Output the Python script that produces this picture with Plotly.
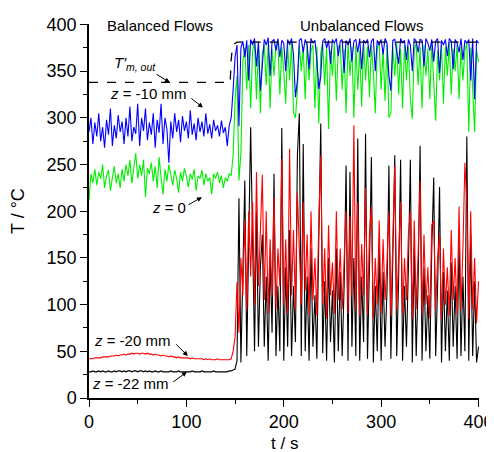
import plotly.graph_objects as go

# ---------------------------------------------------------------- DATA ---- #
# sample times (s), every 2 s from 0 to 400
time_s = list(range(0, 401, 2))

# z = -10 mm (blue)
temp_z_m10 = [
    285, 300, 272, 295, 280, 305, 275, 290, 268, 298,
    282, 310, 270, 292, 278, 303, 285, 296, 272, 300,
    280, 312, 275, 290, 283, 315, 270, 300, 286, 310,
    276, 295, 282, 305, 268, 298, 284, 315, 272, 300,
    288, 252, 296, 278, 305, 285, 298, 274, 302, 286,
    296, 278, 308, 282, 294, 276, 300, 285, 296, 280,
    305, 283, 293, 278, 298, 286, 292, 280, 297, 284,
    290, 270, 292, 300, 330, 365, 378, 291, 375, 382,
    365, 383, 340, 384, 378, 385, 355, 382, 329, 360,
    384, 378, 386, 345, 382, 384, 372, 385, 365, 383,
    380, 350, 384, 378, 385, 368, 322, 340, 383, 385,
    370, 384, 378, 352, 385, 380, 383, 362, 331, 345,
    382, 385, 375, 383, 358, 384, 380, 385, 366, 382,
    384, 348, 383, 378, 385, 360, 382, 384, 370, 385,
    352, 383, 380, 384, 365, 382, 385, 350, 383, 378,
    384, 368, 385, 380, 345, 329, 383, 384, 372, 358,
    385, 380, 383, 362, 384, 378, 350, 385, 382, 370,
    384, 383, 355, 385, 380, 372, 384, 360, 382, 385,
    348, 383, 378, 384, 366, 385, 382, 352, 384, 380,
    370, 385, 362, 383, 380, 384, 340, 385, 320, 383,
    380,
]

# z = 0 (green)
temp_z_0 = [
    212, 240, 230, 245, 228, 242, 235, 250, 225, 238,
    244, 222, 236, 248, 230, 240, 225, 245, 232, 250,
    238, 255, 230, 245, 262, 235, 250, 238, 255, 215,
    246, 240, 252, 232, 248, 225, 258, 236, 218, 245,
    232, 250, 238, 228, 244, 235, 220, 242, 232, 246,
    238, 226, 240, 234, 245, 222, 238, 235, 244, 228,
    240, 232, 236, 218, 240, 235, 242, 230, 238, 225,
    236, 232, 240, 238, 260, 320, 345, 233, 262, 360,
    375, 330, 378, 310, 372, 380, 320, 376, 305, 370,
    378, 335, 380, 310, 374, 345, 378, 380, 325, 376,
    350, 315, 378, 340, 380, 306, 300, 330, 378, 350,
    376, 320, 380, 340, 372, 378, 310, 376, 294, 370,
    380, 335, 376, 288, 372, 345, 380, 318, 376, 378,
    330, 374, 305, 380, 345, 376, 300, 378, 330, 372,
    312, 380, 340, 376, 322, 378, 350, 305, 376, 380,
    330, 374, 318, 378, 300, 305, 376, 345, 380, 325,
    374, 310, 378, 340, 376, 320, 299, 372, 380, 335,
    376, 310, 378, 345, 374, 320, 380, 335, 297, 372,
    340, 378, 315, 376, 345, 380, 325, 374, 350, 378,
    320, 376, 340, 372, 380, 285, 375, 330, 285, 372,
    360,
]

# z = -20 mm (red)
temp_z_m20 = [
    42, 42, 42, 43, 43, 43, 43, 44, 44, 44,
    44, 45, 45, 45, 46, 45, 46, 46, 47, 46,
    47, 47, 48, 47, 48, 48, 47, 48, 48, 47,
    48, 47, 47, 46, 47, 46, 46, 45, 46, 45,
    45, 44, 45, 44, 44, 43, 44, 43, 43, 43,
    43, 43, 42, 43, 42, 42, 42, 42, 42, 41,
    42, 41, 42, 41, 41, 41, 42, 41, 41, 41,
    41, 41, 41, 42, 50, 65, 124, 70, 150, 110,
    190, 95, 200, 130, 210, 100, 242, 120, 180, 239,
    105, 200, 90, 170, 110, 215, 95, 160, 120, 256,
    100, 170, 90, 267, 110, 180, 95, 220, 160, 100,
    210, 115, 175, 90, 200, 105, 150, 88, 190, 260,
    100, 160, 85, 185, 110, 145, 90, 200, 105, 160,
    95, 150, 200, 90, 195, 110, 292, 95, 210, 88,
    165, 110, 225, 90, 175, 205, 85, 150, 100, 190,
    90, 170, 105, 145, 200, 88, 180, 249, 95, 160,
    210, 90, 150, 105, 175, 200, 85, 190, 95, 155,
    233, 90, 175, 100, 140, 85, 185, 190, 95, 150,
    175, 85, 160, 100, 140, 88, 180, 105, 150, 90,
    205, 95, 160, 252, 210, 85, 200, 95, 150, 80,
    125,
]

# z = -22 mm (black)
temp_z_m22 = [
    28, 28, 29, 28, 28, 29, 28, 29, 28, 28,
    29, 28, 28, 29, 28, 29, 29, 28, 29, 28,
    29, 29, 28, 29, 29, 28, 29, 29, 28, 29,
    28, 29, 28, 28, 29, 28, 28, 29, 28, 28,
    28, 28, 29, 28, 28, 28, 29, 28, 28, 28,
    28, 28, 28, 29, 28, 28, 28, 28, 29, 28,
    28, 28, 28, 28, 29, 28, 28, 28, 28, 28,
    28, 28, 29, 29, 30, 31, 40, 214, 38, 140,
    233, 45, 150, 290, 170, 50, 200, 55, 140, 175,
    55, 130, 40, 150, 70, 240, 45, 120, 50, 289,
    40, 140, 55, 180, 45, 120, 60, 260, 305, 45,
    272, 50, 130, 40, 160, 55, 110, 42, 170, 294,
    48, 125, 40, 150, 60, 115, 38, 160, 50, 135,
    45, 120, 249, 40, 242, 55, 150, 45, 278, 40,
    130, 60, 283, 42, 140, 258, 38, 120, 50, 160,
    40, 135, 55, 115, 249, 42, 150, 260, 45, 130,
    255, 40, 120, 55, 140, 255, 38, 160, 45, 125,
    270, 40, 140, 50, 110, 42, 160, 236, 45, 120,
    226, 38, 135, 50, 115, 40, 145, 55, 120, 42,
    170, 45, 130, 50, 280, 40, 175, 45, 125, 38,
    55,
]

# T'm,out (dashed)
tm_out_t = [0, 145, 146, 147, 149, 152, 400]
tm_out_T = [338, 338, 362, 373, 379, 381, 381]

# ------------------------------------------------------------ FIGURE ---- #
FONT = 'Liberation Sans, Arial, sans-serif'

fig = go.Figure()

# order matters: red over black, blue over green, dashed on top
fig.add_trace(go.Scatter(x=time_s, y=temp_z_m22, mode='lines',
                         line=dict(color='black', width=1.1)))
fig.add_trace(go.Scatter(x=time_s, y=temp_z_m20, mode='lines',
                         line=dict(color='#ff0000', width=1.1)))
fig.add_trace(go.Scatter(x=time_s, y=temp_z_0, mode='lines',
                         line=dict(color='#00ee00', width=1.1)))
fig.add_trace(go.Scatter(x=time_s, y=temp_z_m10, mode='lines',
                         line=dict(color='#0000ff', width=1.1)))
fig.add_trace(go.Scatter(x=tm_out_t, y=tm_out_T, mode='lines',
                         line=dict(color='black', width=1.3, dash='dash')))

# text labels
labels = [
    ('Balanced Flows', 72.8, 399, 'center', 15),
    ('Unbalanced Flows', 280, 399, 'center', 15),
    ("<i>T'</i><sub><i>m, out</i></sub>", 23.5, 358, 'left', 15),
    ('<i>z</i> = -10 mm', 19.5, 326, 'left', 15),
    ('<i>z</i> = 0', 62.5, 204, 'left', 15),
    ('<i>z</i> = -20 mm', 3, 62, 'left', 15),
    ('<i>z</i> = -22 mm', 1, 16, 'left', 15),
]
for txt, xx, yy, anc, fs in labels:
    fig.add_annotation(x=xx, y=yy, text=txt, showarrow=False,
                       xanchor=anc, yanchor='middle',
                       font=dict(family=FONT, size=fs, color='black'))

# arrows (tail -> head)
arrows = [
    (67.7, 347.6, 83, 338),
    (103.6, 322, 117, 311),
    (100.5, 206, 116, 215),
    (88, 59, 101.5, 45),
    (85, 16, 100.5, 28),
]
for ax0, ay0, hx, hy in arrows:
    fig.add_annotation(x=hx, y=hy, ax=ax0, ay=ay0, axref='x', ayref='y',
                       text='', showarrow=True, arrowhead=2, arrowsize=1,
                       arrowwidth=1, arrowcolor='black')

# axis titles
fig.add_annotation(xref='paper', yref='paper', x=0.5, y=-0.09,
                   text='t / s', showarrow=False, xanchor='center',
                   yanchor='top',
                   font=dict(family=FONT, size=17, color='black'))
fig.add_annotation(xref='paper', yref='paper', x=-0.182, y=0.5,
                   text='T / °C', showarrow=False, textangle=-90,
                   xanchor='center', yanchor='middle',
                   font=dict(family=FONT, size=18, color='black'))

axis_common = dict(
    showline=True, linecolor='black', linewidth=1.5, mirror=False,
    showgrid=False, zeroline=False, automargin=False,
    ticks='outside', ticklen=7, tickwidth=1.3, tickcolor='black',
    tickfont=dict(family=FONT, size=18, color='black'),
)

fig.update_xaxes(range=[0, 400.5], dtick=100, tick0=0,
                 minor=dict(dtick=50, ticks='outside', ticklen=4,
                            tickwidth=1.3, tickcolor='black', showgrid=False),
                 **axis_common)
fig.update_yaxes(range=[0, 400.5], dtick=50, tick0=0,
                 minor=dict(dtick=25, ticks='outside', ticklen=4,
                            tickwidth=1.3, tickcolor='black', showgrid=False),
                 **axis_common)

# the page body adds an 8 px offset, so the figure is 8 px smaller
fig.update_layout(
    width=486, height=444,
    margin=dict(l=81, r=15, t=16, b=54),
    paper_bgcolor='white', plot_bgcolor='white',
    showlegend=False,
    font=dict(family=FONT, color='black'),
)

fig.write_html('out.html')
